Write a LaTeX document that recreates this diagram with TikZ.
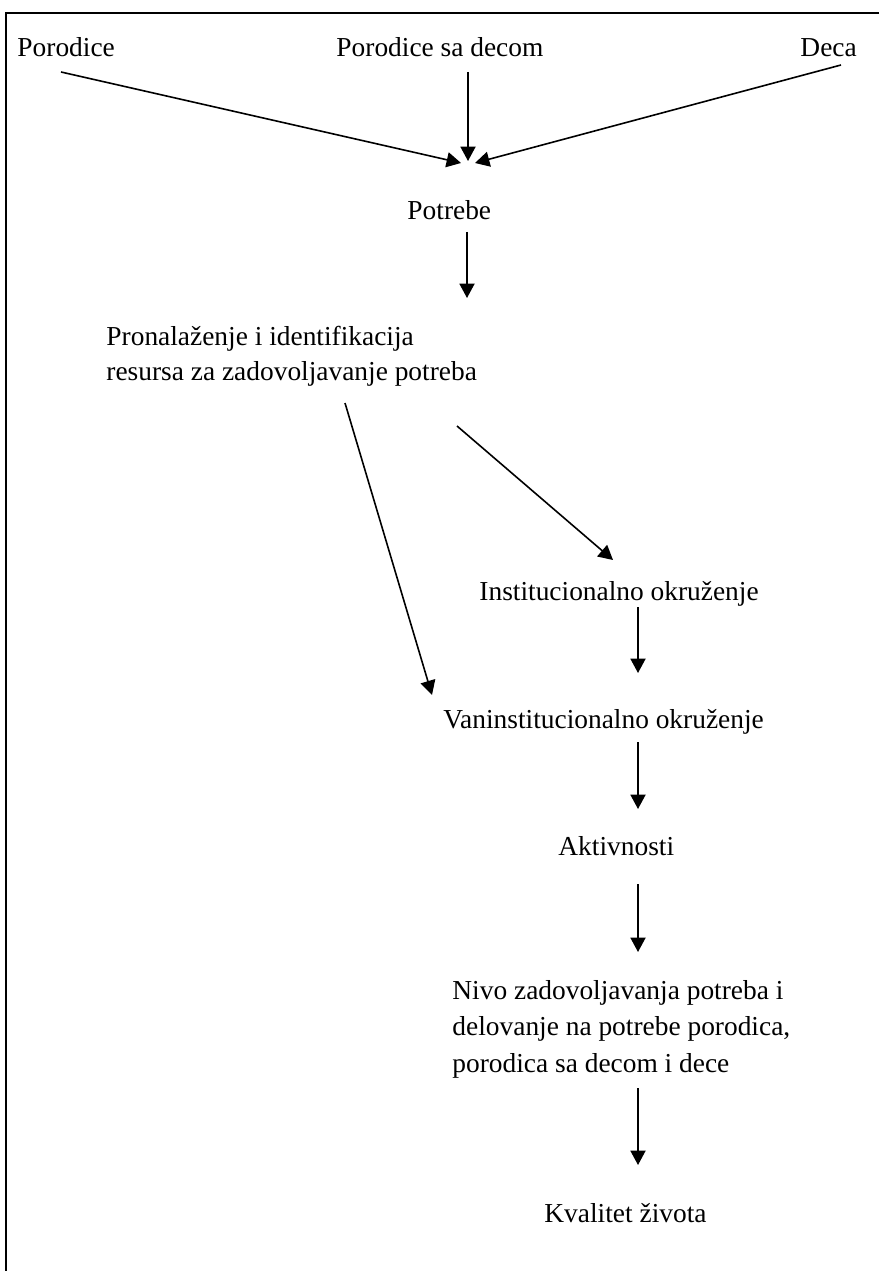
\documentclass[tikz,border=0pt]{standalone}
\usepackage{fontspec}
\setmainfont{Liberation Serif}
\usetikzlibrary{arrows.meta}

\begin{document}
\begin{tikzpicture}[x=0.438pt,y=-0.438pt,
    txt/.style={anchor=base west,inner sep=0pt,align=left,font=\fontsize{12}{15}\selectfont},
    arr/.style={line width=0.7pt,-{Triangle[length=6.3pt,width=6.6pt]}}]
    \useasboundingbox (0,0) rectangle (879,1271);
    \draw[line width=0.8pt] (879,13) -- (6,13) -- (6,1271);

    % texts (multi-line ones sit on their last line)
    \node[txt] (porodice) at (17,57) {Porodice};
    \node[txt] (psd) at (336,57) {Porodice sa decom};
    \node[txt] (deca) at (800,57) {Deca};
    \node[txt] (potrebe) at (407,220) {Potrebe};
    \node[txt] (resursi) at (106,380) {Pronalaženje i identifikacija\\resursa za zadovoljavanje potreba};
    \node[txt] (inst) at (479,600) {Institucionalno okruženje};
    \node[txt] (vanin) at (443,728) {Vaninstitucionalno okruženje};
    \node[txt] (aktiv) at (558,855) {Aktivnosti};
    \node[txt,font=\fontsize{12}{15.8}\selectfont] (nivo) at (452,1072) {Nivo zadovoljavanja potreba i\\delovanje na potrebe porodica,\\porodica sa decom i dece};
    \node[txt] (kval) at (544,1222) {Kvalitet života};

    % ends of the arrows
    \coordinate (porodiceOut) at (61,72);
    \coordinate (psdOut) at (468,72);
    \coordinate (decaOut) at (841,65);
    \coordinate (potrebeInL) at (461,163);
    \coordinate (potrebeIn) at (468,161);
    \coordinate (potrebeInR) at (475,163);
    \coordinate (potrebeOut) at (467,232);
    \coordinate (resursiIn) at (467,298);
    \coordinate (resursiOutL) at (345,403);
    \coordinate (resursiOutR) at (457,426);
    \coordinate (vaninIn) at (432,695);
    \coordinate (instIn) at (613,560);

    \draw[arr] (porodiceOut) -- (potrebeInL);
    \draw[arr] (psdOut) -- (potrebeIn);
    \draw[arr] (decaOut) -- (potrebeInR);
    \draw[arr] (potrebeOut) -- (resursiIn);
    \draw[arr] (resursiOutL) -- (vaninIn);
    \draw[arr] (resursiOutR) -- (instIn);
    \foreach \a/\b in {607/673,742/809,884/952,1088/1165}
        \draw[arr] (638,\a) -- (638,\b);
\end{tikzpicture}
\end{document}
